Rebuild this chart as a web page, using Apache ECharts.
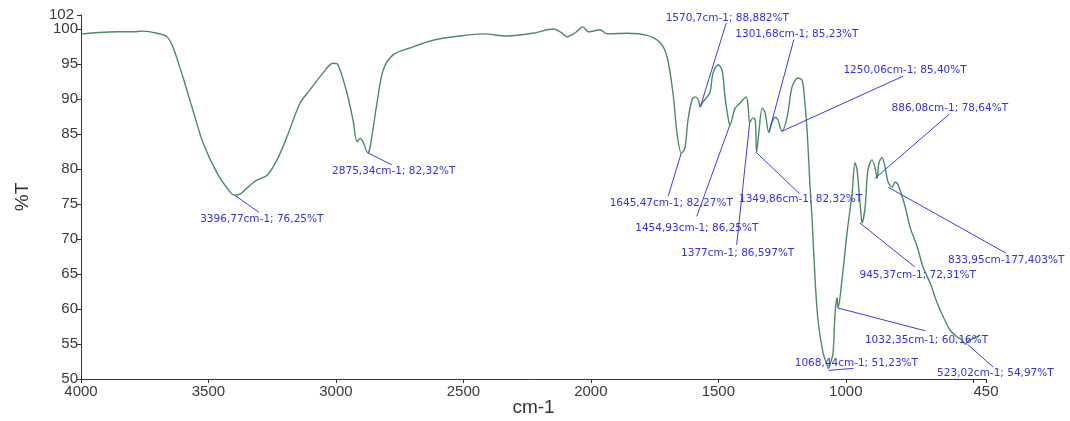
<!DOCTYPE html>
<html>
<head>
<meta charset="utf-8">
<script src="https://cdn.jsdelivr.net/npm/echarts@6/dist/echarts.min.js"></script>
<style>
html,body{margin:0;padding:0;background:#fff;}
#chart{width:1070px;height:421px;}
</style>
</head>
<body>
<div id="chart"></div>
<script>
// Spectrum (wavenumber cm-1, %T)
const wavenumbers = [4000,3930,3859,3800,3757,3702,3663,3639,3600,3561,3521,3466,3415,3397,3376,3349,3310,3270,3231,3192,3141,3102,3051,3012,2992,2957,2933,2917,2905,2894,2875,2866,2839,2815,2776,2709,2619,2513,2423,2329,2227,2148,2120,2093,2060,2031,2010,1991,1964,1937,1858,1780,1729,1701,1678,1662,1645,1631,1619,1603,1591,1579,1571,1560,1544,1532,1521,1501,1485,1474,1462,1455,1434,1415,1391,1383,1377,1364,1355,1350,1340,1328,1317,1302,1289,1277,1266,1258,1250,1230,1211,1187,1172,1164,1152,1140,1132,1121,1109,1089,1075,1068,1060,1050,1042,1034,1030,1015,995,975,964,956,944,936,924,913,897,886,877,870,858,846,834,818,807,799,787,767,748,720,697,669,642,618,591,563,544,532,523,512,493,473,454];
const transmittance = [99.3,99.5,99.6,99.6,99.7,99.4,98.9,97.4,93.1,88.4,83.7,79.4,76.7,76.25,76.4,77.3,78.4,79.1,81.3,84.6,89.4,91.3,93.7,95.1,94.9,90.9,87.0,83.9,84.4,83.9,82.32,83.1,89.4,94.1,96.3,97.3,98.4,99.0,99.3,99.0,99.4,100.0,99.6,98.9,99.5,100.3,99.6,99.7,99.9,99.3,99.4,99.1,98.1,96.0,90.9,85.1,82.27,83.0,87.0,89.9,90.3,89.9,88.88,89.6,90.3,91.0,93.7,94.9,94.1,90.3,87.4,86.25,88.7,89.4,90.3,88.9,86.6,87.3,87.0,82.32,85.6,88.7,88.1,85.23,86.7,87.4,87.0,86.0,85.4,87.4,91.7,93.0,92.7,90.9,85.6,77.4,72.7,64.6,58.4,53.7,52.2,51.5,52.3,53.7,59.4,61.6,60.16,64.1,70.9,76.6,80.9,79.9,75.1,72.31,74.6,79.9,81.3,80.3,78.64,80.9,81.6,80.3,78.1,77.4,78.1,78.0,77.0,74.6,71.7,68.9,66.0,63.7,60.9,58.9,57.0,56.0,55.6,54.97,55.3,55.6,55.9,56.3];

// Annotated peaks
const peakWn = [3396.77,2875.34,1570.7,1301.68,1250.06,886.08,1645.47,1349.86,1454.93,1377,833.95,945.37,1032.35,1068.44,523.02];
const peakT  = [76.25,82.32,88.882,85.23,85.40,78.64,82.27,82.32,86.25,86.597,77.403,72.31,60.16,51.23,54.97];
const peakLabels = ['3396,77cm-1; 76,25%T','2875,34cm-1; 82,32%T','1570,7cm-1; 88,882%T','1301,68cm-1; 85,23%T','1250,06cm-1; 85,40%T','886,08cm-1; 78,64%T','1645,47cm-1; 82,27%T','1349,86cm-1; 82,32%T','1454,93cm-1; 86,25%T','1377cm-1; 86,597%T','833,95cm-177,403%T','945,37cm-1; 72,31%T','1032,35cm-1; 60,16%T','1068,44cm-1; 51,23%T','523,02cm-1; 54,97%T'];

// Axis ticks
const xTicks = [4000,3500,3000,2500,2000,1500,1000,500,450];
const xTickLabels = [4000,3500,3000,2500,2000,1500,1000,450];
const yTicks = [50,55,60,65,70,75,80,85,90,95,100,102];
const yTickLabels = [50,55,60,65,70,75,80,85,90,95,100];
const yTopLabel = [102];

// Label layout (pixel offsets from each peak: leader-line end, text centre)
const annotLayout = [
  {lx:24,ly:17,tx:27,ty:24},
  {lx:24,ly:12,tx:26,ty:19},
  {lx:26,ly:-84,tx:27,ty:-89},
  {lx:25,ly:-93,tx:28,ty:-98},
  {lx:121,ly:-55,tx:123,ty:-61},
  {lx:74,ly:-64,tx:75,ty:-70},
  {lx:-13,ly:43,tx:-10,ty:50},
  {lx:43,ly:41,tx:44,ty:47},
  {lx:-33,ly:91,tx:-33,ty:103},
  {lx:-13,ly:122,tx:-12,ty:130},
  {lx:118,ly:66,tx:118,ty:73},
  {lx:55,ly:44,tx:58,ty:52},
  {lx:88,ly:23,tx:89,ty:32},
  {lx:25,ly:-2,tx:28,ty:-7},
  {lx:26,ly:23,tx:28,ty:29}
];

const spectrum = wavenumbers.map((w,i)=>[w, transmittance[i]]);
const peaks = peakWn.map((w,i)=>[w, peakT[i]]);

const chart = echarts.init(document.getElementById('chart'));
const axisColor = '#333';
const tickFont = {fontFamily:'Liberation Sans, Arial',fontSize:15,color:'#3a3a3a'};
chart.setOption({
  animation:false,
  backgroundColor:'#fff',
  grid:{left:81,right:84,top:15,bottom:42,containLabel:false,outerBoundsMode:'none'},
  xAxis:{
    type:'value', inverse:true, min:450, max:4000,
    name:'cm-1', nameLocation:'middle', nameGap:19, nameMoveOverlap:false,
    nameTextStyle:{fontFamily:'Liberation Sans, Arial',fontSize:19,color:'#333'},
    axisLine:{show:true,lineStyle:{color:axisColor,width:1}},
    axisTick:{show:true,length:4,customValues:xTicks,lineStyle:{color:axisColor}},
    axisLabel:Object.assign({customValues:xTickLabels,margin:5,hideOverlap:false,
               formatter:function(v){return String(v);}}, tickFont),
    splitLine:{show:false}
  },
  yAxis:[{
    type:'value', min:50, max:102, position:'left',
    name:'%T', nameLocation:'middle', nameGap:49, nameRotate:90, nameMoveOverlap:false,
    nameTextStyle:{fontFamily:'Liberation Sans, Arial',fontSize:19,color:'#333'},
    axisLine:{show:true,lineStyle:{color:axisColor,width:1}},
    axisTick:{show:true,length:4,customValues:yTicks,lineStyle:{color:axisColor}},
    axisLabel:Object.assign({customValues:yTickLabels,margin:3,hideOverlap:false,showMaxLabel:true,showMinLabel:true,
               formatter:function(v){return String(v);}}, tickFont),
    splitLine:{show:false}
  },{
    type:'value', min:50, max:102, position:'left', offset:0,
    axisLine:{show:false}, axisTick:{show:false},
    axisLabel:Object.assign({customValues:yTopLabel,margin:7,hideOverlap:false,showMaxLabel:true,
               formatter:function(v){return String(v);}}, tickFont),
    splitLine:{show:false}
  }],
  series:[
    {
      type:'line', data:spectrum, showSymbol:false, smooth:0.3, yAxisIndex:0,
      lineStyle:{color:'#4a8c62',width:1.4}, z:2
    },
    {
      type:'custom', data:peaks, clip:false, z:3, yAxisIndex:0,
      renderItem:function(params, api){
        const i = params.dataIndex;
        const p = api.coord([api.value(0), api.value(1)]);
        const o = annotLayout[i];
        return {
          type:'group',
          children:[
            {type:'line', shape:{x1:p[0],y1:p[1],x2:p[0]+o.lx,y2:p[1]+o.ly},
             style:{stroke:'#3a3aee',lineWidth:1}},
            {type:'text', x:p[0]+o.tx, y:p[1]+o.ty,
             style:{text:peakLabels[i],fill:'#3030f0',font:'10.5px "DejaVu Sans", Verdana, sans-serif',
                    align:'center',verticalAlign:'middle'}}
          ]
        };
      }
    }
  ]
});
</script>
</body>
</html>
